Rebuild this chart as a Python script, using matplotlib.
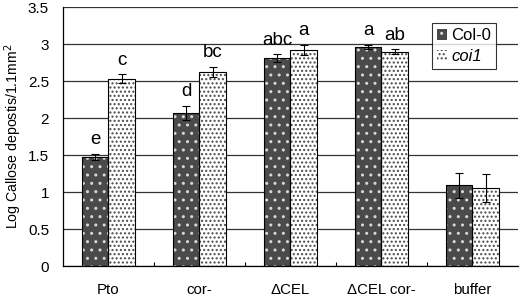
import matplotlib
matplotlib.use("Agg")
import matplotlib.pyplot as plt
from matplotlib.patches import Patch
import numpy as np

plt.rcParams['font.family'] = ['Liberation Sans', 'DejaVu Sans']
plt.rcParams['hatch.linewidth'] = 1.0

categories = ['Pto', 'cor-', 'ΔCEL', 'ΔCEL cor-', 'buffer']
col0 = [1.48, 2.07, 2.81, 2.96, 1.09]
col0_err = [0.04, 0.10, 0.05, 0.03, 0.17]
coi1 = [2.53, 2.62, 2.92, 2.90, 1.06]
coi1_err = [0.06, 0.07, 0.07, 0.03, 0.19]
col0_letters = ['e', 'd', 'abc', 'a', '']
coi1_letters = ['c', 'bc', 'a', 'ab', '']
yticks = [0, 0.5, 1, 1.5, 2, 2.5, 3, 3.5]

fig = plt.figure(figsize=(5.2, 2.96), dpi=100)
ax = fig.add_axes([0.121, 0.101, 0.875, 0.875])

x = np.arange(len(categories))
w = 0.29

# Col-0: dark with white dots
ax.bar(x - w/2, col0, w, color='#4a4a4a', hatch='..', edgecolor='#d8d8d8', linewidth=0, zorder=2)
ax.bar(x - w/2, col0, w, fill=False, edgecolor='black', linewidth=0.8, zorder=3)
# coi1: white with dark dots
ax.bar(x + w/2, coi1, w, color='white', hatch='....', edgecolor='#4a4a4a', linewidth=0, zorder=2)
ax.bar(x + w/2, coi1, w, fill=False, edgecolor='black', linewidth=0.8, zorder=3)

ax.errorbar(x - w/2, col0, yerr=col0_err, fmt='none', ecolor='black', elinewidth=0.8, capsize=3, capthick=0.8, zorder=4)
ax.errorbar(x + w/2, coi1, yerr=coi1_err, fmt='none', ecolor='black', elinewidth=0.8, capsize=3, capthick=0.8, zorder=4)

for i in range(len(categories)):
    if col0_letters[i]:
        ax.text(x[i] - w/2, col0[i] + col0_err[i] + 0.13, col0_letters[i], ha='center', va='baseline', fontsize=13.5)
    if coi1_letters[i]:
        ax.text(x[i] + w/2, coi1[i] + coi1_err[i] + 0.13, coi1_letters[i], ha='center', va='baseline', fontsize=13.5)

ax.set_xlim(-0.5, len(categories) - 0.5)
ax.set_ylim(0, 3.5)
ax.set_yticks(yticks)
ax.set_yticklabels([f'{t:g}' for t in yticks], fontsize=11)
ax.set_xticks(x)
ax.set_xticklabels(categories, fontsize=10.8)
ax.tick_params(axis='x', length=0, pad=12)
ax.tick_params(axis='y', length=0, pad=10)
ax.set_xticks(np.arange(len(categories) - 1) + 0.5, minor=True)
ax.tick_params(axis='x', which='minor', direction='in', length=3, width=0.8)

ax.grid(axis='y', color='#333333', linewidth=0.9, zorder=0)
ax.set_axisbelow(True)
for s in ['top', 'right']:
    ax.spines[s].set_visible(False)
ax.spines['left'].set_linewidth(0.9)
ax.spines['bottom'].set_linewidth(0.9)

ax.set_ylabel('Log Callose depostis/1.1mm$^2$', fontsize=10.2, labelpad=3)

handles = [Patch(facecolor='#4a4a4a', hatch='..', edgecolor='#d8d8d8', linewidth=0),
           Patch(facecolor='white', hatch='....', edgecolor='#4a4a4a', linewidth=0)]
leg = ax.legend(handles, ['Col-0', 'coi1'], loc='upper left', bbox_to_anchor=(0.812, 0.937),
                fontsize=12, frameon=True, fancybox=False, edgecolor='black',
                handlelength=0.6, handleheight=0.6, handletextpad=0.25, borderpad=0.3,
                labelspacing=0.35, borderaxespad=0)
leg.get_frame().set_linewidth(0.8)
leg.get_texts()[1].set_style('italic')

fig.savefig('out.png', dpi=100)
